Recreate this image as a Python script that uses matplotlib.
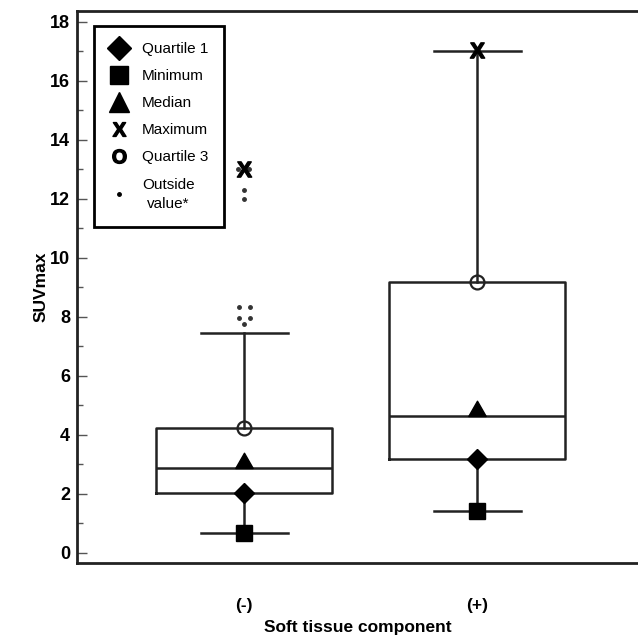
import numpy as np
import matplotlib.pyplot as plt
from matplotlib.lines import Line2D
from matplotlib.path import Path

plt.rcParams['font.family'] = ['Liberation Sans', 'DejaVu Sans']
plt.rcParams['mathtext.fontset'] = 'custom'
plt.rcParams['mathtext.bf'] = 'Liberation Sans:bold'
plt.rcParams['mathtext.rm'] = 'Liberation Sans'

groups = ['(-)', '(+)']
minimum = [0.68, 1.42]
quartile1 = [2.03, 3.19]
median = [2.88, 4.64]
quartile3 = [4.22, 9.19]
whisker_top = [7.45, 17.0]
maximum = [13.0, 17.05]

# outside values of the (-) group, with small sideways offsets as drawn
outside_vals = [13.0, 13.0, 12.3, 12.0, 8.35, 8.35, 7.98, 7.98, 7.75]
outside_dx = [-0.026, 0.022, 0.0, 0.0, -0.024, 0.024, -0.024, 0.024, 0.0]

line_col = '#222222'
pos = np.array([1, 2])

fig = plt.figure(figsize=(6.38, 6.36), dpi=100)
ax = fig.add_axes([0.1207, 0.1148, 0.8793, 0.868])

stats = []
for i in range(2):
    stats.append(dict(med=median[i], q1=quartile1[i], q3=quartile3[i],
                      whislo=minimum[i], whishi=whisker_top[i], fliers=[]))

lp = dict(color=line_col, linewidth=1.8)
ax.bxp(stats, positions=pos, widths=0.755, capwidths=0.373, showfliers=False,
       boxprops=lp, whiskerprops=lp, capprops=lp,
       medianprops=dict(color=line_col, linewidth=1.8))

# triangle marker with its base at the origin so it sits on the median line
tri = Path([(-1.0, 0.0), (1.0, 0.0), (0.0, 1.75), (-1.0, 0.0)],
           [Path.MOVETO, Path.LINETO, Path.LINETO, Path.CLOSEPOLY])

ax.plot(1 + np.array(outside_dx), outside_vals, '.', color='#333333', ms=5, zorder=4)
ax.plot(pos, quartile1, 'D', color='black', ms=10, zorder=5)
ax.plot(pos, minimum, 's', color='black', ms=11, zorder=5)
ax.plot(pos, median, marker=tri, ls='none', color='black', ms=22, zorder=5)
ax.plot(pos, quartile3, 'o', mfc='none', mec=line_col, mew=1.6, ms=10, zorder=5)
ax.plot(pos, maximum, ls='none', marker=r'$\mathbf{X}$', color='black', ms=11, zorder=6)

ax.set_xlim(0.283, 2.69)
ax.set_ylim(-0.34, 18.37)
ax.set_xticks(pos)
ax.set_xticklabels(groups, fontsize=12.5, fontweight='bold')
ax.tick_params(axis='x', length=0, pad=25)
ax.set_yticks(np.arange(0, 19, 2))
ax.set_yticks(np.arange(1, 18, 2), minor=True)
ax.tick_params(axis='y', which='both', direction='in', color='#555555', width=1.0)
ax.tick_params(axis='y', which='major', length=7, labelsize=13, pad=5)
ax.tick_params(axis='y', which='minor', length=4)
for lab in ax.get_yticklabels():
    lab.set_fontweight('bold')

ax.set_xlabel('Soft tissue component', fontsize=12.5, fontweight='bold', labelpad=5)
ax.set_ylabel('SUVmax', fontsize=12.5, fontweight='bold', labelpad=1)

ax.spines['right'].set_visible(False)
for s in ['left', 'bottom', 'top']:
    ax.spines[s].set_linewidth(2)
    ax.spines[s].set_color(line_col)

handles = [
    Line2D([], [], ls='none', marker='D', color='black', ms=12),
    Line2D([], [], ls='none', marker='s', color='black', ms=13),
    Line2D([], [], ls='none', marker='^', color='black', ms=15),
    Line2D([], [], ls='none', marker=r'$\mathbf{X}$', color='black', ms=10),
    Line2D([], [], ls='none', marker=r'$\mathbf{O}$', color='black', ms=10),
    Line2D([], [], ls='none', marker='.', color='black', ms=5),
]
labels = ['Quartile 1', 'Minimum', 'Median', 'Maximum', 'Quartile 3', 'Outside\nvalue*']
leg = ax.legend(handles, labels, loc='upper left', bbox_to_anchor=(0.030, 0.973),
                borderaxespad=0, fontsize=11, handlelength=1.2, handletextpad=0.9,
                labelspacing=0.86, borderpad=1.05, fancybox=False, framealpha=1)
leg.get_frame().set_edgecolor('black')
leg.get_frame().set_linewidth(2)
leg.get_texts()[-1].set_multialignment('center')
leg.get_texts()[-1].set_linespacing(1.45)

fig.savefig('out.png', dpi=100)
